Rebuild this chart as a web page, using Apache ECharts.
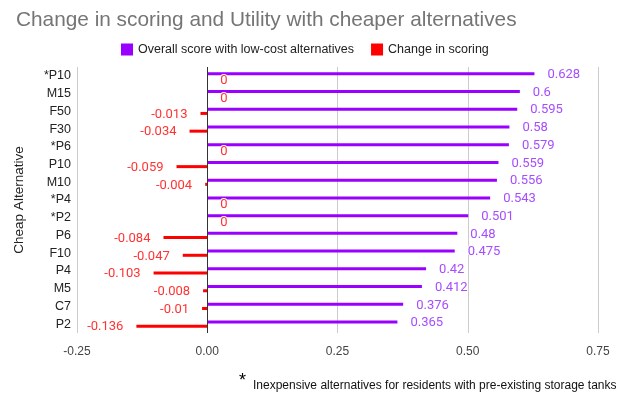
<!DOCTYPE html>
<html>
<head>
<meta charset="utf-8">
<script src="https://cdn.jsdelivr.net/npm/echarts@6/dist/echarts.min.js"></script>
<style>
  html, body { margin: 0; padding: 0; background: #fff; }
  #chart { width: 624px; height: 396px; }
</style>
</head>
<body>
<div id="chart"></div>
<script>
// Alternatives, listed top to bottom
const categories = ['*P10', 'M15', 'F50', 'F30', '*P6', 'P10', 'M10', '*P4', '*P2', 'P6', 'F10', 'P4', 'M5', 'C7', 'P2'];
const overallScore = [0.628, 0.6, 0.595, 0.58, 0.579, 0.559, 0.556, 0.543, 0.501, 0.48, 0.475, 0.42, 0.412, 0.376, 0.365];
const scoreChange = [0, 0, -0.013, -0.034, 0, -0.059, -0.004, 0, 0, -0.084, -0.047, -0.103, -0.008, -0.01, -0.136];
const xTicks = [-0.25, 0, 0.25, 0.5, 0.75];

const PURPLE = '#9900ff';
const RED = '#ff0000';
const labelFont = 'Roboto, "Liberation Sans", Arial, sans-serif';
const baseFont = '"Liberation Sans", Arial, sans-serif';

// Labels sit past the end of each bar: left for negatives, right otherwise
function withLabels(values, color) {
  return values.map(v => ({
    value: v,
    label: {
      show: true,
      position: v < 0 ? 'left' : 'right',
      distance: 13,
      color: color,
      fontFamily: labelFont,
      fontSize: 13,
      textBorderColor: '#fff',
      textBorderWidth: 2,
      offset: v === 0 ? [0, 3] : [0, 1],
      formatter: () => String(v)
    }
  }));
}

const chart = echarts.init(document.getElementById('chart'), null, { renderer: 'canvas' });

chart.setOption({
  animation: false,
  backgroundColor: '#fff',
  title: {
    text: 'Change in scoring and Utility with cheaper alternatives',
    left: 11,
    top: 5,
    textStyle: { color: '#757575', fontSize: 20.8, fontWeight: 'normal', fontFamily: baseFont }
  },
  legend: {
    top: 38,
    left: 116,
    itemWidth: 12,
    itemHeight: 12,
    itemGap: 17,
    icon: 'rect',
    textStyle: { color: '#222', fontSize: 12.5, fontFamily: baseFont },
    data: ['Overall score with low-cost alternatives', 'Change in scoring']
  },
  grid: { left: 77, right: 26, top: 67, bottom: 63, containLabel: false },
  xAxis: {
    type: 'value',
    min: xTicks[0],
    max: xTicks[xTicks.length - 1],
    interval: 0.25,
    axisLine: { show: false },
    axisTick: { show: false },
    splitLine: { show: true, lineStyle: { color: '#cccccc', width: 1 } },
    axisLabel: {
      color: '#444',
      fontSize: 12,
      fontFamily: baseFont,
      margin: 13,
      formatter: v => v.toFixed(2)
    }
  },
  yAxis: {
    type: 'category',
    inverse: true,
    data: categories,
    name: 'Cheap Alternative',
    nameLocation: 'middle',
    nameGap: 51,
    nameTextStyle: { color: '#222', fontSize: 13.5, fontFamily: baseFont },
    axisLine: { show: false },
    axisTick: { show: false },
    axisLabel: { color: '#222', fontSize: 12.5, fontFamily: baseFont, margin: 6 }
  },
  series: [
    {
      name: 'Overall score with low-cost alternatives',
      type: 'bar',
      barWidth: 3,
      barGap: '40%',
      itemStyle: { color: PURPLE },
      data: withLabels(overallScore, '#a64dff'),
      markLine: {
        silent: true,
        symbol: 'none',
        label: { show: false },
        lineStyle: { color: '#333', width: 1, type: 'solid' },
        data: [{ xAxis: 0 }]
      }
    },
    {
      name: 'Change in scoring',
      type: 'bar',
      barWidth: 3,
      itemStyle: { color: RED },
      data: withLabels(scoreChange, '#ff3333')
    }
  ],
  graphic: [
    {
      type: 'text',
      left: 239,
      top: 372,
      style: { text: '*', fontSize: 18, fill: '#000', fontFamily: baseFont }
    },
    {
      type: 'text',
      left: 253,
      top: 380,
      style: {
        text: 'Inexpensive alternatives for residents with pre-existing storage tanks',
        fontSize: 12,
        fill: '#111',
        fontFamily: baseFont
      }
    }
  ]
});
</script>
</body>
</html>
